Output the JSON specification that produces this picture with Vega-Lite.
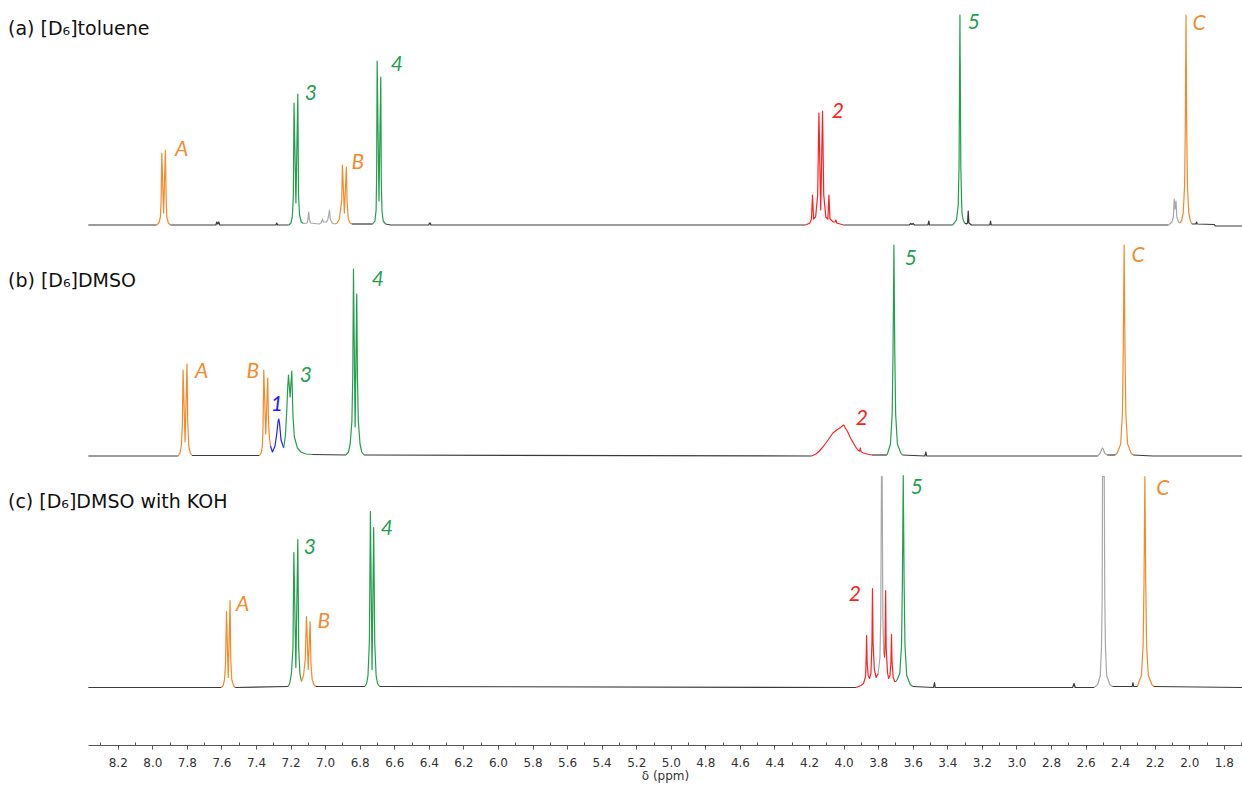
{
"$schema": "https://vega.github.io/schema/vega-lite/v6.json",
"width": 1154,
"height": 745,
"autosize": {"type": "none"},
"padding": {"left": 88, "top": 0, "right": 0, "bottom": 40},
"background": "white",
"config": {"view": {"stroke": null}},
"datasets": {
"spec": [
{"t":"a","s":1,"g":"base","x":8.37,"y":0},{"t":"a","s":1,"g":"base","x":7.975,"y":0},
{"t":"a","s":2,"g":"A","x":7.975,"y":0},{"t":"a","s":2,"g":"A","x":7.962,"y":2},{"t":"a","s":2,"g":"A","x":7.953,"y":8},{"t":"a","s":2,"g":"A","x":7.949,"y":25},{"t":"a","s":2,"g":"A","x":7.945,"y":72},{"t":"a","s":2,"g":"A","x":7.9345,"y":12},{"t":"a","s":2,"g":"A","x":7.924,"y":75},{"t":"a","s":2,"g":"A","x":7.92,"y":26},{"t":"a","s":2,"g":"A","x":7.916,"y":8},{"t":"a","s":2,"g":"A","x":7.907,"y":2},{"t":"a","s":2,"g":"A","x":7.895,"y":0},
{"t":"a","s":3,"g":"base","x":7.895,"y":0},{"t":"a","s":3,"g":"base","x":7.632,"y":0},{"t":"a","s":3,"g":"base","x":7.627,"y":3},{"t":"a","s":3,"g":"base","x":7.621,"y":1},{"t":"a","s":3,"g":"base","x":7.615,"y":3},{"t":"a","s":3,"g":"base","x":7.61,"y":0},{"t":"a","s":3,"g":"base","x":7.285,"y":0},{"t":"a","s":3,"g":"base","x":7.28,"y":2},{"t":"a","s":3,"g":"base","x":7.275,"y":0},{"t":"a","s":3,"g":"base","x":7.21,"y":0},
{"t":"a","s":4,"g":"3","x":7.21,"y":0},{"t":"a","s":4,"g":"3","x":7.198,"y":2},{"t":"a","s":4,"g":"3","x":7.19,"y":8},{"t":"a","s":4,"g":"3","x":7.184,"y":28},{"t":"a","s":4,"g":"3","x":7.18,"y":122},{"t":"a","s":4,"g":"3","x":7.169,"y":22},{"t":"a","s":4,"g":"3","x":7.158,"y":131},{"t":"a","s":4,"g":"3","x":7.154,"y":30},{"t":"a","s":4,"g":"3","x":7.148,"y":10},{"t":"a","s":4,"g":"3","x":7.138,"y":3},{"t":"a","s":4,"g":"3","x":7.125,"y":1.5},
{"t":"a","s":5,"g":"solvent","x":7.125,"y":1.5},{"t":"a","s":5,"g":"solvent","x":7.104,"y":2},{"t":"a","s":5,"g":"solvent","x":7.099,"y":6},{"t":"a","s":5,"g":"solvent","x":7.095,"y":13},{"t":"a","s":5,"g":"solvent","x":7.091,"y":6},{"t":"a","s":5,"g":"solvent","x":7.085,"y":2},{"t":"a","s":5,"g":"solvent","x":7.035,"y":1},{"t":"a","s":5,"g":"solvent","x":7.024,"y":2},{"t":"a","s":5,"g":"solvent","x":7.019,"y":4},{"t":"a","s":5,"g":"solvent","x":7.015,"y":6},{"t":"a","s":5,"g":"solvent","x":7.011,"y":3},{"t":"a","s":5,"g":"solvent","x":6.995,"y":3},{"t":"a","s":5,"g":"solvent","x":6.985,"y":5},{"t":"a","s":5,"g":"solvent","x":6.979,"y":10},{"t":"a","s":5,"g":"solvent","x":6.975,"y":15},{"t":"a","s":5,"g":"solvent","x":6.97,"y":6},{"t":"a","s":5,"g":"solvent","x":6.96,"y":2},{"t":"a","s":5,"g":"solvent","x":6.945,"y":1},
{"t":"a","s":6,"g":"B","x":6.945,"y":1},{"t":"a","s":6,"g":"B","x":6.93,"y":2},{"t":"a","s":6,"g":"B","x":6.918,"y":6},{"t":"a","s":6,"g":"B","x":6.904,"y":25},{"t":"a","s":6,"g":"B","x":6.9,"y":60},{"t":"a","s":6,"g":"B","x":6.8885,"y":12},{"t":"a","s":6,"g":"B","x":6.877,"y":58},{"t":"a","s":6,"g":"B","x":6.873,"y":24},{"t":"a","s":6,"g":"B","x":6.866,"y":6},{"t":"a","s":6,"g":"B","x":6.855,"y":2},{"t":"a","s":6,"g":"B","x":6.845,"y":1},
{"t":"a","s":7,"g":"base","x":6.845,"y":1},{"t":"a","s":7,"g":"base","x":6.725,"y":1},
{"t":"a","s":8,"g":"4","x":6.725,"y":1},{"t":"a","s":8,"g":"4","x":6.712,"y":4},{"t":"a","s":8,"g":"4","x":6.705,"y":15},{"t":"a","s":8,"g":"4","x":6.702,"y":50},{"t":"a","s":8,"g":"4","x":6.699,"y":164},{"t":"a","s":8,"g":"4","x":6.6885,"y":24},{"t":"a","s":8,"g":"4","x":6.678,"y":148},{"t":"a","s":8,"g":"4","x":6.675,"y":45},{"t":"a","s":8,"g":"4","x":6.671,"y":14},{"t":"a","s":8,"g":"4","x":6.664,"y":4},{"t":"a","s":8,"g":"4","x":6.65,"y":1},
{"t":"a","s":9,"g":"base","x":6.65,"y":1},{"t":"a","s":9,"g":"base","x":6.62,"y":0},{"t":"a","s":9,"g":"base","x":6.4,"y":0},{"t":"a","s":9,"g":"base","x":6.396,"y":2},{"t":"a","s":9,"g":"base","x":6.392,"y":2},{"t":"a","s":9,"g":"base","x":6.388,"y":0},{"t":"a","s":9,"g":"base","x":4.22,"y":0},
{"t":"a","s":10,"g":"2","x":4.22,"y":0},{"t":"a","s":10,"g":"2","x":4.195,"y":2},{"t":"a","s":10,"g":"2","x":4.186,"y":6},{"t":"a","s":10,"g":"2","x":4.18,"y":30},{"t":"a","s":10,"g":"2","x":4.174,"y":6},{"t":"a","s":10,"g":"2","x":4.162,"y":8},{"t":"a","s":10,"g":"2","x":4.15,"y":30},{"t":"a","s":10,"g":"2","x":4.143,"y":112},{"t":"a","s":10,"g":"2","x":4.1325,"y":15},{"t":"a","s":10,"g":"2","x":4.122,"y":114},{"t":"a","s":10,"g":"2","x":4.115,"y":30},{"t":"a","s":10,"g":"2","x":4.103,"y":8},{"t":"a","s":10,"g":"2","x":4.091,"y":6},{"t":"a","s":10,"g":"2","x":4.085,"y":30},{"t":"a","s":10,"g":"2","x":4.079,"y":6},{"t":"a","s":10,"g":"2","x":4.06,"y":3},{"t":"a","s":10,"g":"2","x":4.05,"y":3},{"t":"a","s":10,"g":"2","x":4.045,"y":5},{"t":"a","s":10,"g":"2","x":4.04,"y":2},{"t":"a","s":10,"g":"2","x":4.02,"y":1},{"t":"a","s":10,"g":"2","x":4.0,"y":0},
{"t":"a","s":11,"g":"base","x":4.0,"y":0},{"t":"a","s":11,"g":"base","x":3.62,"y":0},{"t":"a","s":11,"g":"base","x":3.612,"y":1.5},{"t":"a","s":11,"g":"base","x":3.605,"y":0.5},{"t":"a","s":11,"g":"base","x":3.598,"y":1.5},{"t":"a","s":11,"g":"base","x":3.59,"y":0},{"t":"a","s":11,"g":"base","x":3.512,"y":0},{"t":"a","s":11,"g":"base","x":3.507,"y":4},{"t":"a","s":11,"g":"base","x":3.503,"y":0},{"t":"a","s":11,"g":"base","x":3.37,"y":0},
{"t":"a","s":12,"g":"5","x":3.37,"y":0},{"t":"a","s":12,"g":"5","x":3.36,"y":2},{"t":"a","s":12,"g":"5","x":3.347,"y":5},{"t":"a","s":12,"g":"5","x":3.337,"y":20},{"t":"a","s":12,"g":"5","x":3.332,"y":60},{"t":"a","s":12,"g":"5","x":3.327,"y":210},{"t":"a","s":12,"g":"5","x":3.322,"y":60},{"t":"a","s":12,"g":"5","x":3.318,"y":27},{"t":"a","s":12,"g":"5","x":3.315,"y":12},{"t":"a","s":12,"g":"5","x":3.308,"y":5},{"t":"a","s":12,"g":"5","x":3.3,"y":2},
{"t":"a","s":13,"g":"base","x":3.3,"y":2},{"t":"a","s":13,"g":"base","x":3.29,"y":1},{"t":"a","s":13,"g":"base","x":3.283,"y":2},{"t":"a","s":13,"g":"base","x":3.279,"y":14},{"t":"a","s":13,"g":"base","x":3.275,"y":2},{"t":"a","s":13,"g":"base","x":3.26,"y":0},{"t":"a","s":13,"g":"base","x":3.154,"y":0},{"t":"a","s":13,"g":"base","x":3.15,"y":4},{"t":"a","s":13,"g":"base","x":3.146,"y":0},{"t":"a","s":13,"g":"base","x":2.12,"y":0},
{"t":"a","s":14,"g":"solvent","x":2.12,"y":0},{"t":"a","s":14,"g":"solvent","x":2.1,"y":3},{"t":"a","s":14,"g":"solvent","x":2.092,"y":8},{"t":"a","s":14,"g":"solvent","x":2.087,"y":26},{"t":"a","s":14,"g":"solvent","x":2.082,"y":16},{"t":"a","s":14,"g":"solvent","x":2.077,"y":24},{"t":"a","s":14,"g":"solvent","x":2.072,"y":8},{"t":"a","s":14,"g":"solvent","x":2.062,"y":3},{"t":"a","s":14,"g":"solvent","x":2.055,"y":2},
{"t":"a","s":15,"g":"C","x":2.055,"y":2},{"t":"a","s":15,"g":"C","x":2.045,"y":4},{"t":"a","s":15,"g":"C","x":2.035,"y":12},{"t":"a","s":15,"g":"C","x":2.027,"y":40},{"t":"a","s":15,"g":"C","x":2.023,"y":100},{"t":"a","s":15,"g":"C","x":2.019,"y":210},{"t":"a","s":15,"g":"C","x":2.015,"y":100},{"t":"a","s":15,"g":"C","x":2.011,"y":40},{"t":"a","s":15,"g":"C","x":2.003,"y":12},{"t":"a","s":15,"g":"C","x":1.993,"y":4},{"t":"a","s":15,"g":"C","x":1.985,"y":1},
{"t":"a","s":16,"g":"base","x":1.985,"y":1},{"t":"a","s":16,"g":"base","x":1.962,"y":1},{"t":"a","s":16,"g":"base","x":1.958,"y":3},{"t":"a","s":16,"g":"base","x":1.954,"y":1},{"t":"a","s":16,"g":"base","x":1.855,"y":0.5},{"t":"a","s":16,"g":"base","x":1.85,"y":-1},{"t":"a","s":16,"g":"base","x":1.695,"y":-1},

{"t":"b","s":1,"g":"base","x":8.37,"y":0},{"t":"b","s":1,"g":"base","x":7.85,"y":0},
{"t":"b","s":2,"g":"A","x":7.85,"y":0},{"t":"b","s":2,"g":"A","x":7.84,"y":3},{"t":"b","s":2,"g":"A","x":7.832,"y":10},{"t":"b","s":2,"g":"A","x":7.826,"y":32},{"t":"b","s":2,"g":"A","x":7.822,"y":86},{"t":"b","s":2,"g":"A","x":7.8105,"y":14},{"t":"b","s":2,"g":"A","x":7.799,"y":92},{"t":"b","s":2,"g":"A","x":7.795,"y":34},{"t":"b","s":2,"g":"A","x":7.789,"y":10},{"t":"b","s":2,"g":"A","x":7.78,"y":3},{"t":"b","s":2,"g":"A","x":7.77,"y":0.5},
{"t":"b","s":3,"g":"base","x":7.77,"y":0.5},{"t":"b","s":3,"g":"base","x":7.38,"y":0.5},
{"t":"b","s":4,"g":"B","x":7.38,"y":0.5},{"t":"b","s":4,"g":"B","x":7.37,"y":3},{"t":"b","s":4,"g":"B","x":7.363,"y":10},{"t":"b","s":4,"g":"B","x":7.359,"y":32},{"t":"b","s":4,"g":"B","x":7.355,"y":86},{"t":"b","s":4,"g":"B","x":7.3435,"y":22},{"t":"b","s":4,"g":"B","x":7.332,"y":78},{"t":"b","s":4,"g":"B","x":7.328,"y":36},{"t":"b","s":4,"g":"B","x":7.322,"y":18},{"t":"b","s":4,"g":"B","x":7.316,"y":10},
{"t":"b","s":5,"g":"1","x":7.316,"y":10},{"t":"b","s":5,"g":"1","x":7.305,"y":4},{"t":"b","s":5,"g":"1","x":7.29,"y":10},{"t":"b","s":5,"g":"1","x":7.28,"y":22},{"t":"b","s":5,"g":"1","x":7.272,"y":35},{"t":"b","s":5,"g":"1","x":7.268,"y":37},{"t":"b","s":5,"g":"1","x":7.264,"y":33},{"t":"b","s":5,"g":"1","x":7.255,"y":16},{"t":"b","s":5,"g":"1","x":7.24,"y":8},
{"t":"b","s":6,"g":"3","x":7.24,"y":8},{"t":"b","s":6,"g":"3","x":7.23,"y":20},{"t":"b","s":6,"g":"3","x":7.222,"y":45},{"t":"b","s":6,"g":"3","x":7.216,"y":70},{"t":"b","s":6,"g":"3","x":7.212,"y":81},{"t":"b","s":6,"g":"3","x":7.2025,"y":59},{"t":"b","s":6,"g":"3","x":7.193,"y":85},{"t":"b","s":6,"g":"3","x":7.186,"y":40},{"t":"b","s":6,"g":"3","x":7.178,"y":19},{"t":"b","s":6,"g":"3","x":7.16,"y":8},{"t":"b","s":6,"g":"3","x":7.14,"y":4},{"t":"b","s":6,"g":"3","x":7.11,"y":2},{"t":"b","s":6,"g":"3","x":7.075,"y":1.5},
{"t":"b","s":7,"g":"base","x":7.075,"y":1.5},{"t":"b","s":7,"g":"base","x":6.88,"y":1},
{"t":"b","s":8,"g":"4","x":6.88,"y":1},{"t":"b","s":8,"g":"4","x":6.865,"y":4},{"t":"b","s":8,"g":"4","x":6.855,"y":12},{"t":"b","s":8,"g":"4","x":6.845,"y":35},{"t":"b","s":8,"g":"4","x":6.84,"y":80},{"t":"b","s":8,"g":"4","x":6.836,"y":187},{"t":"b","s":8,"g":"4","x":6.8265,"y":29},{"t":"b","s":8,"g":"4","x":6.817,"y":162},{"t":"b","s":8,"g":"4","x":6.813,"y":80},{"t":"b","s":8,"g":"4","x":6.808,"y":35},{"t":"b","s":8,"g":"4","x":6.798,"y":12},{"t":"b","s":8,"g":"4","x":6.788,"y":4},{"t":"b","s":8,"g":"4","x":6.775,"y":1},
{"t":"b","s":9,"g":"base","x":6.775,"y":1},{"t":"b","s":9,"g":"base","x":4.186,"y":0},
{"t":"b","s":10,"g":"2","x":4.186,"y":0},{"t":"b","s":10,"g":"2","x":4.16,"y":2},{"t":"b","s":10,"g":"2","x":4.14,"y":5},{"t":"b","s":10,"g":"2","x":4.12,"y":9},{"t":"b","s":10,"g":"2","x":4.09,"y":16},{"t":"b","s":10,"g":"2","x":4.062,"y":23},{"t":"b","s":10,"g":"2","x":4.04,"y":26},{"t":"b","s":10,"g":"2","x":4.022,"y":28},{"t":"b","s":10,"g":"2","x":4.008,"y":30},{"t":"b","s":10,"g":"2","x":3.999,"y":31},{"t":"b","s":10,"g":"2","x":3.99,"y":28},{"t":"b","s":10,"g":"2","x":3.976,"y":24},{"t":"b","s":10,"g":"2","x":3.96,"y":18},{"t":"b","s":10,"g":"2","x":3.947,"y":14},{"t":"b","s":10,"g":"2","x":3.93,"y":9},{"t":"b","s":10,"g":"2","x":3.918,"y":6},{"t":"b","s":10,"g":"2","x":3.908,"y":5},{"t":"b","s":10,"g":"2","x":3.903,"y":8},{"t":"b","s":10,"g":"2","x":3.899,"y":4},{"t":"b","s":10,"g":"2","x":3.885,"y":3},{"t":"b","s":10,"g":"2","x":3.866,"y":2},{"t":"b","s":10,"g":"2","x":3.837,"y":1},
{"t":"b","s":11,"g":"base","x":3.837,"y":1},{"t":"b","s":11,"g":"base","x":3.75,"y":1},
{"t":"b","s":12,"g":"5","x":3.75,"y":1},{"t":"b","s":12,"g":"5","x":3.745,"y":3},{"t":"b","s":12,"g":"5","x":3.729,"y":12},{"t":"b","s":12,"g":"5","x":3.719,"y":42},{"t":"b","s":12,"g":"5","x":3.714,"y":105},{"t":"b","s":12,"g":"5","x":3.709,"y":211},{"t":"b","s":12,"g":"5","x":3.704,"y":105},{"t":"b","s":12,"g":"5","x":3.699,"y":42},{"t":"b","s":12,"g":"5","x":3.689,"y":12},{"t":"b","s":12,"g":"5","x":3.669,"y":3},{"t":"b","s":12,"g":"5","x":3.66,"y":1},
{"t":"b","s":13,"g":"base","x":3.66,"y":1},{"t":"b","s":13,"g":"base","x":3.53,"y":0},{"t":"b","s":13,"g":"base","x":3.524,"y":4},{"t":"b","s":13,"g":"base","x":3.52,"y":0},{"t":"b","s":13,"g":"base","x":2.53,"y":0},
{"t":"b","s":14,"g":"solvent","x":2.53,"y":0},{"t":"b","s":14,"g":"solvent","x":2.515,"y":3},{"t":"b","s":14,"g":"solvent","x":2.506,"y":7},{"t":"b","s":14,"g":"solvent","x":2.502,"y":8},{"t":"b","s":14,"g":"solvent","x":2.498,"y":7},{"t":"b","s":14,"g":"solvent","x":2.49,"y":3},{"t":"b","s":14,"g":"solvent","x":2.475,"y":1},
{"t":"b","s":15,"g":"base","x":2.475,"y":1},{"t":"b","s":15,"g":"base","x":2.43,"y":1},
{"t":"b","s":16,"g":"C","x":2.43,"y":1},{"t":"b","s":16,"g":"C","x":2.417,"y":3},{"t":"b","s":16,"g":"C","x":2.397,"y":12},{"t":"b","s":16,"g":"C","x":2.387,"y":42},{"t":"b","s":16,"g":"C","x":2.382,"y":105},{"t":"b","s":16,"g":"C","x":2.377,"y":211},{"t":"b","s":16,"g":"C","x":2.372,"y":105},{"t":"b","s":16,"g":"C","x":2.367,"y":42},{"t":"b","s":16,"g":"C","x":2.357,"y":12},{"t":"b","s":16,"g":"C","x":2.337,"y":3},{"t":"b","s":16,"g":"C","x":2.325,"y":1},
{"t":"b","s":17,"g":"base","x":2.325,"y":1},{"t":"b","s":17,"g":"base","x":2.21,"y":0},{"t":"b","s":17,"g":"base","x":1.695,"y":0},

{"t":"c","s":1,"g":"base","x":8.37,"y":0},{"t":"c","s":1,"g":"base","x":7.6,"y":0},
{"t":"c","s":2,"g":"A","x":7.6,"y":0},{"t":"c","s":2,"g":"A","x":7.59,"y":2},{"t":"c","s":2,"g":"A","x":7.582,"y":8},{"t":"c","s":2,"g":"A","x":7.576,"y":25},{"t":"c","s":2,"g":"A","x":7.571,"y":76},{"t":"c","s":2,"g":"A","x":7.5605,"y":10},{"t":"c","s":2,"g":"A","x":7.55,"y":87},{"t":"c","s":2,"g":"A","x":7.546,"y":28},{"t":"c","s":2,"g":"A","x":7.54,"y":8},{"t":"c","s":2,"g":"A","x":7.53,"y":2},{"t":"c","s":2,"g":"A","x":7.52,"y":0},
{"t":"c","s":3,"g":"base","x":7.52,"y":0},{"t":"c","s":3,"g":"base","x":7.215,"y":1},
{"t":"c","s":4,"g":"3","x":7.215,"y":1},{"t":"c","s":4,"g":"3","x":7.205,"y":4},{"t":"c","s":4,"g":"3","x":7.195,"y":14},{"t":"c","s":4,"g":"3","x":7.186,"y":40},{"t":"c","s":4,"g":"3","x":7.181,"y":135},{"t":"c","s":4,"g":"3","x":7.1695,"y":20},{"t":"c","s":4,"g":"3","x":7.158,"y":148},{"t":"c","s":4,"g":"3","x":7.153,"y":40},{"t":"c","s":4,"g":"3","x":7.146,"y":14},{"t":"c","s":4,"g":"3","x":7.137,"y":6},
{"t":"c","s":5,"g":"B","x":7.137,"y":6},{"t":"c","s":5,"g":"B","x":7.125,"y":12},{"t":"c","s":5,"g":"B","x":7.115,"y":28},{"t":"c","s":5,"g":"B","x":7.108,"y":71},{"t":"c","s":5,"g":"B","x":7.0975,"y":18},{"t":"c","s":5,"g":"B","x":7.087,"y":66},{"t":"c","s":5,"g":"B","x":7.082,"y":24},{"t":"c","s":5,"g":"B","x":7.075,"y":8},{"t":"c","s":5,"g":"B","x":7.065,"y":3},{"t":"c","s":5,"g":"B","x":7.055,"y":1},
{"t":"c","s":6,"g":"base","x":7.055,"y":1},{"t":"c","s":6,"g":"base","x":6.77,"y":1},
{"t":"c","s":7,"g":"4","x":6.77,"y":1},{"t":"c","s":7,"g":"4","x":6.76,"y":4},{"t":"c","s":7,"g":"4","x":6.752,"y":12},{"t":"c","s":7,"g":"4","x":6.744,"y":45},{"t":"c","s":7,"g":"4","x":6.738,"y":176},{"t":"c","s":7,"g":"4","x":6.7285,"y":18},{"t":"c","s":7,"g":"4","x":6.719,"y":160},{"t":"c","s":7,"g":"4","x":6.713,"y":45},{"t":"c","s":7,"g":"4","x":6.705,"y":12},{"t":"c","s":7,"g":"4","x":6.697,"y":4},{"t":"c","s":7,"g":"4","x":6.685,"y":1},
{"t":"c","s":8,"g":"base","x":6.685,"y":1},{"t":"c","s":8,"g":"base","x":3.929,"y":0},
{"t":"c","s":9,"g":"2","x":3.929,"y":0},{"t":"c","s":9,"g":"2","x":3.9,"y":2},{"t":"c","s":9,"g":"2","x":3.885,"y":4},{"t":"c","s":9,"g":"2","x":3.873,"y":11},{"t":"c","s":9,"g":"2","x":3.87,"y":26},{"t":"c","s":9,"g":"2","x":3.867,"y":52},{"t":"c","s":9,"g":"2","x":3.864,"y":26},{"t":"c","s":9,"g":"2","x":3.858,"y":12},{"t":"c","s":9,"g":"2","x":3.85,"y":9},{"t":"c","s":9,"g":"2","x":3.842,"y":14},{"t":"c","s":9,"g":"2","x":3.836,"y":45},{"t":"c","s":9,"g":"2","x":3.833,"y":99},{"t":"c","s":9,"g":"2","x":3.83,"y":45},{"t":"c","s":9,"g":"2","x":3.822,"y":18},{"t":"c","s":9,"g":"2","x":3.812,"y":10},{"t":"c","s":9,"g":"2","x":3.8,"y":14},
{"t":"c","s":10,"g":"solvent","x":3.8,"y":14},{"t":"c","s":10,"g":"solvent","x":3.79,"y":30},{"t":"c","s":10,"g":"solvent","x":3.785,"y":70},{"t":"c","s":10,"g":"solvent","x":3.781,"y":211},{"t":"c","s":10,"g":"solvent","x":3.777,"y":211},{"t":"c","s":10,"g":"solvent","x":3.773,"y":70},{"t":"c","s":10,"g":"solvent","x":3.768,"y":35},{"t":"c","s":10,"g":"solvent","x":3.763,"y":30},
{"t":"c","s":11,"g":"2","x":3.763,"y":30},{"t":"c","s":11,"g":"2","x":3.76,"y":45},{"t":"c","s":11,"g":"2","x":3.757,"y":97},{"t":"c","s":11,"g":"2","x":3.754,"y":40},{"t":"c","s":11,"g":"2","x":3.746,"y":15},{"t":"c","s":11,"g":"2","x":3.74,"y":9},{"t":"c","s":11,"g":"2","x":3.732,"y":12},{"t":"c","s":11,"g":"2","x":3.726,"y":26},{"t":"c","s":11,"g":"2","x":3.723,"y":53},{"t":"c","s":11,"g":"2","x":3.72,"y":26},{"t":"c","s":11,"g":"2","x":3.713,"y":10},{"t":"c","s":11,"g":"2","x":3.705,"y":6},{"t":"c","s":11,"g":"2","x":3.697,"y":6},
{"t":"c","s":12,"g":"5","x":3.697,"y":6},{"t":"c","s":12,"g":"5","x":3.69,"y":8},{"t":"c","s":12,"g":"5","x":3.675,"y":14},{"t":"c","s":12,"g":"5","x":3.665,"y":42},{"t":"c","s":12,"g":"5","x":3.66,"y":105},{"t":"c","s":12,"g":"5","x":3.655,"y":212},{"t":"c","s":12,"g":"5","x":3.65,"y":105},{"t":"c","s":12,"g":"5","x":3.645,"y":42},{"t":"c","s":12,"g":"5","x":3.635,"y":12},{"t":"c","s":12,"g":"5","x":3.615,"y":3},{"t":"c","s":12,"g":"5","x":3.6,"y":1},
{"t":"c","s":13,"g":"base","x":3.6,"y":1},{"t":"c","s":13,"g":"base","x":3.48,"y":0},{"t":"c","s":13,"g":"base","x":3.474,"y":5},{"t":"c","s":13,"g":"base","x":3.47,"y":0},{"t":"c","s":13,"g":"base","x":2.675,"y":0},{"t":"c","s":13,"g":"base","x":2.667,"y":4},{"t":"c","s":13,"g":"base","x":2.66,"y":0},{"t":"c","s":13,"g":"base","x":2.55,"y":0},
{"t":"c","s":14,"g":"solvent","x":2.55,"y":0},{"t":"c","s":14,"g":"solvent","x":2.53,"y":3},{"t":"c","s":14,"g":"solvent","x":2.515,"y":12},{"t":"c","s":14,"g":"solvent","x":2.508,"y":40},{"t":"c","s":14,"g":"solvent","x":2.504,"y":90},{"t":"c","s":14,"g":"solvent","x":2.502,"y":211},{"t":"c","s":14,"g":"solvent","x":2.492,"y":211},{"t":"c","s":14,"g":"solvent","x":2.489,"y":90},{"t":"c","s":14,"g":"solvent","x":2.485,"y":40},{"t":"c","s":14,"g":"solvent","x":2.478,"y":12},{"t":"c","s":14,"g":"solvent","x":2.46,"y":3},{"t":"c","s":14,"g":"solvent","x":2.445,"y":1},
{"t":"c","s":15,"g":"base","x":2.445,"y":1},{"t":"c","s":15,"g":"base","x":2.33,"y":1},{"t":"c","s":15,"g":"base","x":2.326,"y":5},{"t":"c","s":15,"g":"base","x":2.322,"y":1},{"t":"c","s":15,"g":"base","x":2.3,"y":1},
{"t":"c","s":16,"g":"C","x":2.3,"y":1},{"t":"c","s":16,"g":"C","x":2.297,"y":3},{"t":"c","s":16,"g":"C","x":2.277,"y":12},{"t":"c","s":16,"g":"C","x":2.267,"y":42},{"t":"c","s":16,"g":"C","x":2.262,"y":105},{"t":"c","s":16,"g":"C","x":2.257,"y":211},{"t":"c","s":16,"g":"C","x":2.252,"y":105},{"t":"c","s":16,"g":"C","x":2.247,"y":42},{"t":"c","s":16,"g":"C","x":2.237,"y":12},{"t":"c","s":16,"g":"C","x":2.217,"y":3},{"t":"c","s":16,"g":"C","x":2.205,"y":1},
{"t":"c","s":17,"g":"base","x":2.205,"y":1},{"t":"c","s":17,"g":"base","x":1.695,"y":0}
],
"lbl": [
{"t":"a","k":"title","g":"title","txt":"(a) [D₆]toluene","x":8.835,"y":196},
{"t":"b","k":"title","g":"title","txt":"(b) [D₆]DMSO","x":8.835,"y":175},
{"t":"c","k":"title","g":"title","txt":"(c) [D₆]DMSO with KOH","x":8.835,"y":185.5},
{"t":"a","k":"peak","g":"A","txt":"A","x":7.83,"y":75},
{"t":"a","k":"peak","g":"3","txt":"3","x":7.083,"y":131},
{"t":"a","k":"peak","g":"B","txt":"B","x":6.811,"y":62},
{"t":"a","k":"peak","g":"4","txt":"4","x":6.585,"y":160},
{"t":"a","k":"peak","g":"2","txt":"2","x":4.033,"y":113},
{"t":"a","k":"peak","g":"5","txt":"5","x":3.246,"y":202},
{"t":"a","k":"peak","g":"C","txt":"C","x":1.944,"y":201},
{"t":"b","k":"peak","g":"A","txt":"A","x":7.714,"y":84},
{"t":"b","k":"peak","g":"B","txt":"B","x":7.419,"y":84},
{"t":"b","k":"peak","g":"1","txt":"1","x":7.28,"y":51},
{"t":"b","k":"peak","g":"3","txt":"3","x":7.112,"y":80},
{"t":"b","k":"peak","g":"4","txt":"4","x":6.695,"y":176},
{"t":"b","k":"peak","g":"2","txt":"2","x":3.894,"y":37},
{"t":"b","k":"peak","g":"5","txt":"5","x":3.611,"y":197},
{"t":"b","k":"peak","g":"C","txt":"C","x":2.297,"y":200},
{"t":"c","k":"peak","g":"A","txt":"A","x":7.477,"y":83},
{"t":"c","k":"peak","g":"3","txt":"3","x":7.089,"y":140},
{"t":"c","k":"peak","g":"B","txt":"B","x":7.008,"y":66},
{"t":"c","k":"peak","g":"4","txt":"4","x":6.643,"y":159},
{"t":"c","k":"peak","g":"2","txt":"2","x":3.935,"y":93},
{"t":"c","k":"peak","g":"5","txt":"5","x":3.576,"y":200},
{"t":"c","k":"peak","g":"C","txt":"C","x":2.153,"y":199}
]
},
"encoding": {
"x": {"field": "x", "type": "quantitative",
 "scale": {"domain": [1.695, 8.372], "reverse": true, "nice": false, "zero": false},
 "axis": {
  "values": [8.3,8.2,8.1,8.0,7.9,7.8,7.7,7.6,7.5,7.4,7.3,7.2,7.1,7.0,6.9,6.8,6.7,6.6,6.5,6.4,6.3,6.2,6.1,6.0,5.9,5.8,5.7,5.6,5.5,5.4,5.3,5.2,5.1,5.0,4.9,4.8,4.7,4.6,4.5,4.4,4.3,4.2,4.1,4.0,3.9,3.8,3.7,3.6,3.5,3.4,3.3,3.2,3.1,3.0,2.9,2.8,2.7,2.6,2.5,2.4,2.3,2.2,2.1,2.0,1.9,1.8,1.7],
  "labelExpr": "round(datum.value*10) % 2 === 0 ? format(datum.value, '.1f') : ''",
  "tickSize": {"condition": {"test": "round(datum.value*10) % 2 === 0", "value": 4}, "value": -3},
  "labelFont": "DejaVu Sans", "labelFontSize": 12, "labelColor": "#333",
  "labelPadding": 8, "labelFlush": false, "labelOverlap": false,
  "domainColor": "#555", "tickColor": "#555", "grid": false,
  "title": "δ (ppm)", "titleFont": "DejaVu Sans", "titleFontSize": 12, "titleFontWeight": "normal", "titleColor": "#333", "titlePadding": 2
 }},
"color": {"field": "g", "type": "nominal", "legend": null,
 "scale": {"domain": ["base","A","B","C","1","2","3","4","5","solvent","title"],
  "range": ["#3a3a3a","#f58a2a","#f58a2a","#f58a2a","#2222ff","#ff2222","#23a04c","#23a04c","#23a04c","#a8a8a8","#111111"]}}
},
"layer": [
{"layer": [
 {"data": {"name": "spec"}, "transform": [{"filter": "datum.t === 'a'"}],
  "mark": {"type": "line", "strokeWidth": 1.2, "strokeJoin": "round"},
  "encoding": {"y": {"field": "y", "type": "quantitative", "scale": {"domain": [-520, 225], "nice": false, "zero": false}, "axis": null}, "detail": {"field": "s", "type": "nominal"}}},
 {"data": {"name": "lbl"}, "transform": [{"filter": "datum.t === 'a' && datum.k === 'peak'"}],
  "mark": {"type": "text", "font": "Lato", "fontStyle": "italic", "fontSize": 21, "align": "center", "baseline": "middle"},
  "encoding": {"y": {"field": "y", "type": "quantitative", "scale": {"domain": [-520, 225], "nice": false, "zero": false}, "axis": null}, "text": {"field": "txt"}}},
 {"data": {"name": "lbl"}, "transform": [{"filter": "datum.t === 'a' && datum.k === 'title'"}],
  "mark": {"type": "text", "font": "DejaVu Sans", "fontSize": 19, "align": "left", "baseline": "middle"},
  "encoding": {"y": {"field": "y", "type": "quantitative", "scale": {"domain": [-520, 225], "nice": false, "zero": false}, "axis": null}, "text": {"field": "txt"}}}
]},
{"layer": [
 {"data": {"name": "spec"}, "transform": [{"filter": "datum.t === 'b'"}],
  "mark": {"type": "line", "strokeWidth": 1.2, "strokeJoin": "round"},
  "encoding": {"y": {"field": "y", "type": "quantitative", "scale": {"domain": [-289, 456], "nice": false, "zero": false}, "axis": null}, "detail": {"field": "s", "type": "nominal"}}},
 {"data": {"name": "lbl"}, "transform": [{"filter": "datum.t === 'b' && datum.k === 'peak'"}],
  "mark": {"type": "text", "font": "Lato", "fontStyle": "italic", "fontSize": 21, "align": "center", "baseline": "middle"},
  "encoding": {"y": {"field": "y", "type": "quantitative", "scale": {"domain": [-289, 456], "nice": false, "zero": false}, "axis": null}, "text": {"field": "txt"}}},
 {"data": {"name": "lbl"}, "transform": [{"filter": "datum.t === 'b' && datum.k === 'title'"}],
  "mark": {"type": "text", "font": "DejaVu Sans", "fontSize": 19, "align": "left", "baseline": "middle"},
  "encoding": {"y": {"field": "y", "type": "quantitative", "scale": {"domain": [-289, 456], "nice": false, "zero": false}, "axis": null}, "text": {"field": "txt"}}}
]},
{"layer": [
 {"data": {"name": "spec"}, "transform": [{"filter": "datum.t === 'c'"}],
  "mark": {"type": "line", "strokeWidth": 1.2, "strokeJoin": "round"},
  "encoding": {"y": {"field": "y", "type": "quantitative", "scale": {"domain": [-57.5, 687.5], "nice": false, "zero": false}, "axis": null}, "detail": {"field": "s", "type": "nominal"}}},
 {"data": {"name": "lbl"}, "transform": [{"filter": "datum.t === 'c' && datum.k === 'peak'"}],
  "mark": {"type": "text", "font": "Lato", "fontStyle": "italic", "fontSize": 21, "align": "center", "baseline": "middle"},
  "encoding": {"y": {"field": "y", "type": "quantitative", "scale": {"domain": [-57.5, 687.5], "nice": false, "zero": false}, "axis": null}, "text": {"field": "txt"}}},
 {"data": {"name": "lbl"}, "transform": [{"filter": "datum.t === 'c' && datum.k === 'title'"}],
  "mark": {"type": "text", "font": "DejaVu Sans", "fontSize": 19, "align": "left", "baseline": "middle"},
  "encoding": {"y": {"field": "y", "type": "quantitative", "scale": {"domain": [-57.5, 687.5], "nice": false, "zero": false}, "axis": null}, "text": {"field": "txt"}}}
]}
],
"resolve": {"scale": {"y": "independent"}}
}
